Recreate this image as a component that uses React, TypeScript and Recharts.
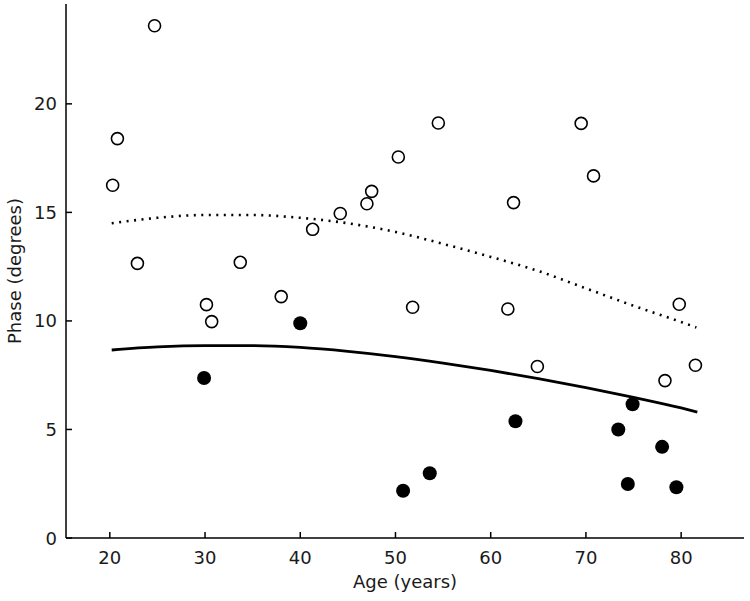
import React from 'react';
import { ComposedChart, Line, Scatter, XAxis, YAxis } from 'recharts';

// Open circles (age, phase)
const openAge = [20.3, 20.8, 22.9, 24.7, 30.15, 30.7, 33.7, 38.0, 41.3, 44.2, 47.0, 47.5, 50.3, 51.8, 54.5, 61.8, 62.4, 64.9, 69.5, 70.8, 78.3, 79.8, 81.5];
const openPhase = [16.25, 18.4, 12.65, 23.6, 10.75, 9.97, 12.7, 11.12, 14.22, 14.95, 15.4, 15.97, 17.55, 10.63, 19.12, 10.55, 15.45, 7.9, 19.1, 16.68, 7.25, 10.77, 7.96];

// Filled circles
const filledAge = [29.9, 40.0, 50.8, 53.6, 62.6, 73.4, 74.4, 74.9, 78.0, 79.5];
const filledPhase = [7.37, 9.89, 2.18, 2.98, 5.38, 5.0, 2.49, 6.16, 4.2, 2.34];

// Fitted curves
const solidAge = [20.2, 25, 30, 35, 40, 45, 50, 55, 60, 65, 70, 75, 80, 81.7];
const solidPhase = [8.66, 8.8, 8.86, 8.86, 8.78, 8.6, 8.36, 8.06, 7.72, 7.34, 6.93, 6.48, 5.99, 5.8];
const dottedAge = [20.2, 25, 30, 35, 40, 45, 50, 55, 60, 65, 70, 75, 80, 81.6];
const dottedPhase = [14.5, 14.75, 14.88, 14.88, 14.75, 14.5, 14.1, 13.55, 12.95, 12.3, 11.5, 10.7, 9.95, 9.7];

const xTicks = [20, 30, 40, 50, 60, 70, 80];
const yTicks = [0, 5, 10, 15, 20];

const zip = (xs: number[], ys: number[]) => xs.map((x, i) => ({ x, y: ys[i] }));
const openData = zip(openAge, openPhase);
const filledData = zip(filledAge, filledPhase);
const solidData = zip(solidAge, solidPhase);
const dottedData = zip(dottedAge, dottedPhase);

const FONT = '"DejaVu Sans", sans-serif';
const TEXT = '#1a1a1a';

const XTick = (p: any) => (
  <g>
    <line x1={p.x} x2={p.x} y1={p.y} y2={p.y - 6} stroke="#000" strokeWidth={1.5} />
    <text x={p.x} y={p.y + 25.5} textAnchor="middle" fontFamily={FONT} fontSize={18} fill={TEXT}>
      {p.payload.value}
    </text>
  </g>
);

const YTick = (p: any) => (
  <g>
    <line x1={p.x} x2={p.x + 6} y1={p.y} y2={p.y} stroke="#000" strokeWidth={1.5} />
    <text x={p.x - 9} y={p.y + 6.5} textAnchor="end" fontFamily={FONT} fontSize={18} fill={TEXT}>
      {p.payload.value}
    </text>
  </g>
);

const OpenDot = (p: any) => (
  <circle cx={p.cx} cy={p.cy} r={6} fill="#fff" stroke="#000" strokeWidth={1.6} />
);
const FilledDot = (p: any) => (
  <circle cx={p.cx} cy={p.cy} r={7} fill="#000" stroke="none" />
);

export default function App() {
  return (
    <div style={{ position: 'absolute', left: 0, top: 0, background: '#fff' }}>
      <ComposedChart width={750} height={601} margin={{ top: 4, right: 6, bottom: 0, left: 0 }}>
        <XAxis
          type="number"
          dataKey="x"
          domain={[15.4, 86.6]}
          ticks={xTicks}
          allowDataOverflow
          height={63}
          tickSize={0}
          tickMargin={0}
          tickLine={false}
          tick={<XTick />}
          axisLine={{ stroke: '#000', strokeWidth: 1.5 }}
          label={{
            content: () => (
              <text x={405} y={588} textAnchor="middle" fontFamily={FONT} fontSize={18} fill={TEXT}>
                Age (years)
              </text>
            ),
          }}
        />
        <YAxis
          type="number"
          dataKey="y"
          domain={[0, 24.6]}
          ticks={yTicks}
          allowDataOverflow
          width={66}
          tickSize={0}
          tickMargin={0}
          tickLine={false}
          tick={<YTick />}
          axisLine={{ stroke: '#000', strokeWidth: 1.5 }}
          label={{
            content: () => (
              <text
                x={21}
                y={271}
                textAnchor="middle"
                transform="rotate(-90 21 271)"
                fontFamily={FONT}
                fontSize={18}
                fill={TEXT}
              >
                Phase (degrees)
              </text>
            ),
          }}
        />
        <Line
          data={dottedData}
          dataKey="y"
          type="monotone"
          stroke="#000"
          strokeWidth={2.6}
          strokeDasharray="2 5.5"
          dot={false}
          activeDot={false}
          isAnimationActive={false}
        />
        <Line
          data={solidData}
          dataKey="y"
          type="monotone"
          stroke="#000"
          strokeWidth={2.8}
          dot={false}
          activeDot={false}
          isAnimationActive={false}
        />
        <Scatter data={openData} dataKey="y" shape={<OpenDot />} isAnimationActive={false} />
        <Scatter data={filledData} dataKey="y" shape={<FilledDot />} isAnimationActive={false} />
      </ComposedChart>
    </div>
  );
}
